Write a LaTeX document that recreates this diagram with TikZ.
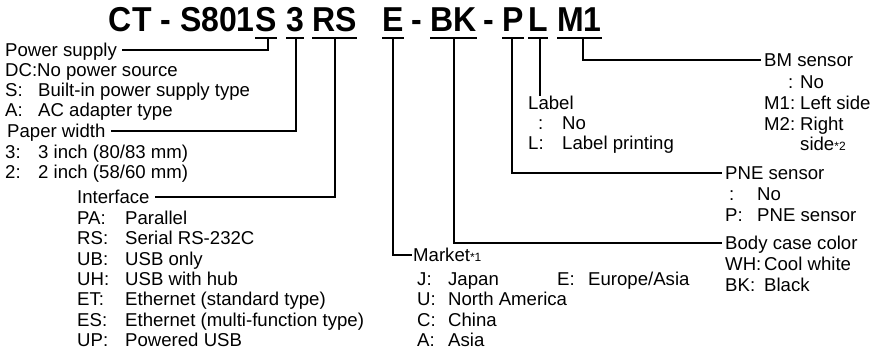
\documentclass[tikz,border=0pt]{standalone}
\usepackage{fontspec}
\setmainfont{Liberation Sans}
\usetikzlibrary{calc}
\newcommand\cd[2]{\makebox[#1pt][l]{#2}}
\newcommand\sm[1]{{\fontsize{12}{12}\selectfont #1}}
\begin{document}
\begin{tikzpicture}[x=1pt,y=-1pt,
  ttl/.style={anchor=base west,inner sep=0pt,font=\fontsize{32}{32}\selectfont\bfseries},
  hdr/.style={anchor=base west,inner sep=0pt,text height=13pt,text depth=0pt,font=\fontsize{18.6}{20}\selectfont},
  itm/.style={anchor=base west,inner sep=0pt,font=\fontsize{18.6}{20}\selectfont},
  con/.style={line width=2pt},
  uline/.style={line width=2pt}]
\useasboundingbox[fill=white] (0,0) rectangle (891,352);

% title
\node[ttl,anchor=base east] (t0) at (255,32) {\scalebox{1}[1.08]{CT - S801}};
\node[ttl] (tS) at (255,32) {\scalebox{1}[1.08]{S}};
\node[ttl] (t3) at (286,32) {\scalebox{1}[1.08]{3}};
\node[ttl] (tRS) at (312,32) {\scalebox{1}[1.08]{RS}};
\node[ttl] (tE) at (382,32) {\scalebox{1}[1.08]{E}};
\node[ttl,anchor=base] (h1) at (416.5,32) {\scalebox{1}[1.08]{-}};
\node[ttl] (tBK) at (430,32) {\scalebox{1}[1.08]{BK}};
\node[ttl,anchor=base] (h2) at (489,32) {\scalebox{1}[1.08]{-}};
\node[ttl] (tP) at (502,32) {\scalebox{1}[1.08]{P}};
\node[ttl] (tL) at (528,32) {\scalebox{1}[1.08]{L}};
\node[ttl] (tM) at (557,32) {\scalebox{1}[1.08]{M1}};
\foreach \n in {tS,t3,tRS,tE,tBK,tP,tL,tM}
  \draw[uline] ($(\n.base west)+(0,6)$) -- ($(\n.base east)+(0,6)$);

\coordinate (dS) at (268,38);
\coordinate (d3) at (296,38);
\coordinate (dRS) at (335,38);
\coordinate (dE) at (393,38);
\coordinate (dBK) at (454,38);
\coordinate (dP) at (512,38);
\coordinate (dL) at (540,38);
\coordinate (dM) at (583,38);

% power supply
\node[hdr] (psH) at (5,56.4) {Power supply};
\node[itm] (ps1) at (5,76.4) {DC:No power source};
\node[itm] (ps2) at (5,96.4) {\cd{33}{S:}Built-in power supply type};
\node[itm] (ps3) at (5,116.4) {\cd{33}{A:}AC adapter type};

% paper width
\node[hdr] (pwH) at (7,137.4) {Paper width};
\node[itm] (pw1) at (5,158.4) {\cd{33}{3:}3 inch (80/83 mm)};
\node[itm] (pw2) at (5,178.4) {\cd{33}{2:}2 inch (58/60 mm)};

% interface
\node[hdr] (ifH) at (77,203.4) {Interface};
\node[itm] (if1) at (77,224.4) {\cd{48}{PA:}Parallel};
\node[itm] (if2) at (77,244.8) {\cd{48}{RS:}Serial RS-232C};
\node[itm] (if3) at (77,265.2) {\cd{48}{UB:}USB only};
\node[itm] (if4) at (77,285.6) {\cd{48}{UH:}USB with hub};
\node[itm] (if5) at (77,306) {\cd{48}{ET:}Ethernet (standard type)};
\node[itm] (if6) at (77,326.4) {\cd{48}{ES:}Ethernet (multi-function type)};
\node[itm] (if7) at (77,346.8) {\cd{48}{UP:}Powered USB};

% market
\node[hdr] (mkH) at (413,262) {Market\sm{*1}};
\node[itm] (mk1) at (417,285.6) {\cd{31}{J:}Japan};
\node[itm] (mk5) at (557,285.6) {\cd{31}{E:}Europe/Asia};
\node[itm] (mk2) at (417,306) {\cd{31}{U:}North America};
\node[itm] (mk3) at (417,326.4) {\cd{31}{C:}China};
\node[itm] (mk4) at (417,346.8) {\cd{31}{A:}Asia};

% body case color
\node[hdr] (bcH) at (725,249.4) {Body case color};
\node[itm] (bc1) at (725,270.4) {\cd{39}{WH:}Cool white};
\node[itm] (bc2) at (725,291.4) {\cd{39}{BK:}Black};

% PNE sensor
\node[hdr] (pnH) at (725,179.4) {PNE sensor};
\node[itm] (pn1) at (725,200.4) {\cd{32}{\hspace{4pt}:}No};
\node[itm] (pn2) at (725,221.4) {\cd{32}{P:}PNE sensor};

% label
\node[hdr] (lbH) at (528,109.4) {Label};
\node[itm] (lb1) at (528,129.4) {\cd{34}{\hspace{10pt}:}No};
\node[itm] (lb2) at (528,149.4) {\cd{34}{L:}Label printing};

% BM sensor
\node[hdr] (bmH) at (764,66.4) {BM sensor};
\node[itm] (bm1) at (764,88.4) {\cd{36}{\hspace{24pt}:}No};
\node[itm] (bm2) at (764,109.4) {\cd{36}{M1:}Left side};
\node[itm] (bm3) at (764,130.4) {\cd{36}{M2:}Right};
\node[itm] (bm4) at (800,150.4) {side\sm{*2}};

% connectors
\draw[con] (dS) |- ($(psH.east)+(5,0)$);
\draw[con] (d3) |- ($(pwH.east)+(5,0)$);
\draw[con] (dRS) |- ($(ifH.east)+(5,0)$);
\draw[con] (dE) |- ($(mkH.west)+(-1,0)$);
\draw[con] (dBK) |- ($(bcH.west)+(-3,0)$);
\draw[con] (dP) |- ($(pnH.west)+(-3,0)$);
\draw[con] (dL) -- (dL |- lbH.north);
\draw[con] (dM) |- ($(bmH.west)+(-3,0)$);
\end{tikzpicture}
\end{document}
